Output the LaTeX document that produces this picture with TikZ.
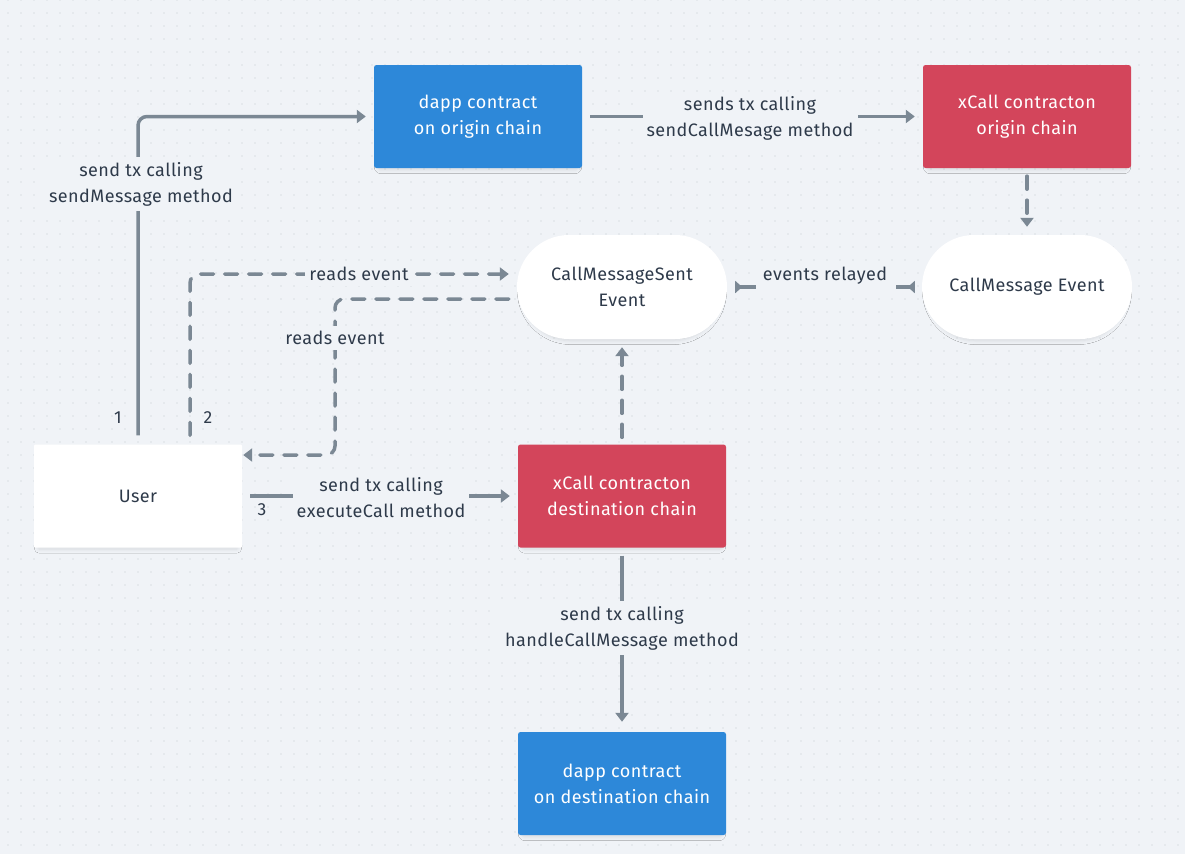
\documentclass[tikz,border=0pt]{standalone}
\usepackage{fontspec}
\setmainfont[LetterSpace=2.5]{Fira Sans}
\usetikzlibrary{arrows.meta,shadows.blur,calc}
\definecolor{bg}{HTML}{F0F3F7}
\definecolor{dotc}{HTML}{C2C8D0}
\definecolor{blueb}{HTML}{2D88D9}
\definecolor{redb}{HTML}{D3455B}
\definecolor{linec}{HTML}{7B8894}
\definecolor{txt}{HTML}{2E3A4A}
\begin{document}
\begin{tikzpicture}[x=1pt,y=-1pt,
  lblfont/.style={font=\fontsize{18}{26}\selectfont},
  box/.style={rectangle, rounded corners=2.5pt, minimum width=208pt, minimum height=103pt,
    align=center, lblfont, inner sep=0pt,
    blur shadow={shadow blur steps=6, shadow xshift=0pt, shadow yshift=-4pt, shadow scale=0.96, shadow opacity=10, shadow blur radius=4pt}},
  bluebox/.style={box, fill=blueb, text=white},
  redbox/.style={box, fill=redb, text=white},
  whitebox/.style={box, fill=white, text=txt},
  pill/.style={whitebox, rounded corners=52pt, minimum width=210pt, minimum height=104pt},
  conn/.style={draw=linec, line width=3.5pt, rounded corners=9pt},
  dconn/.style={conn, line cap=round, dash pattern=on 13pt off 11pt},
  tip/.style={-{Triangle[length=9pt,width=13pt]}},
  lbl/.style={lblfont, text=txt, align=center, fill=bg, inner xsep=4pt, inner ysep=5pt},
  num/.style={font=\fontsize{17.5}{20}\selectfont, text=txt}
]
\useasboundingbox (0,0) rectangle (1185,854);
\fill[bg] (0,0) rectangle (1185,854);
\foreach \i in {0,...,91} {
  \foreach \j in {0,...,66} {
    \fill[dotc] (8+13*\i, 13*\j) circle (0.6pt);
  }
}
% nodes
\node[bluebox] (dapp1) at (478,116.5) {dapp contract\\on origin chain};
\node[redbox] (xo) at (1027,116.5) {xCall contracton\\origin chain};
\node[pill] (cms) at (622,287) {CallMessageSent\\Event};
\node[pill] (cme) at (1027,287) {CallMessage Event};
\node[whitebox, rounded corners=1pt] (user) at (138,496) {User};
\node[redbox] (xd) at (622,496) {xCall contracton\\destination chain};
\node[bluebox] (dapp2) at (622,783.5) {dapp contract\\on destination chain};
\coordinate (c2) at (335,455);
% connectors
\draw[conn,tip,shorten <=9pt,shorten >=8pt] (user.north) |- (dapp1.west);
\draw[dconn,tip,shorten <=9pt,shorten >=8pt] ([xshift=52pt]user.north) |- ([yshift=13pt]cms.west);
\draw[dconn,tip,shorten <=8pt,shorten >=1pt] ([yshift=-12pt]cms.west) -| (c2) -- (c2 -| user.east);
\draw[conn,tip,shorten <=8pt,shorten >=8pt] (user.east) -- (xd.west);
\draw[conn,tip,shorten <=8pt,shorten >=8pt] (dapp1.east) -- (xo.west);
\draw[dconn,tip,shorten <=8pt,shorten >=8pt] (xo.south) -- (cme.north);
\draw[conn,{Triangle[reversed,length=7pt,width=12pt]}-{Triangle[reversed,length=7pt,width=12pt]},shorten <=7pt,shorten >=8pt] (cme.west) -- (cms.east);
\draw[dconn,tip,shorten <=7pt,shorten >=8pt] (xd.north) -- (cms.south);
\draw[conn,tip,shorten <=8pt,shorten >=10pt] (xd.south) -- (dapp2.north);
% labels
\node[lbl] (l1) at (141,184) {send tx calling\\sendMessage method};
\node[lbl] (l2) at (359,274) {reads event};
\node[lbl] (l3) at (335,338) {reads event};
\node[lbl] (l4) at (750,118.5) {sends tx calling\\sendCallMesage method};
\node[lbl, minimum width=140pt, minimum height=34pt] (l5) at (826,280) {};
\node[lblfont, text=txt] (l5t) at (825,275.5) {events relayed};
\node[lbl] (l6) at (381,498) {send tx calling\\executeCall method};
\node[lbl] (l7) at (622,628) {send tx calling\\handleCallMessage method};
\node[num] (n1) at (118,418) {1};
\node[num] (n2) at (208,418) {2};
\node[num] (n3) at (262,510) {3};
\end{tikzpicture}
\end{document}
